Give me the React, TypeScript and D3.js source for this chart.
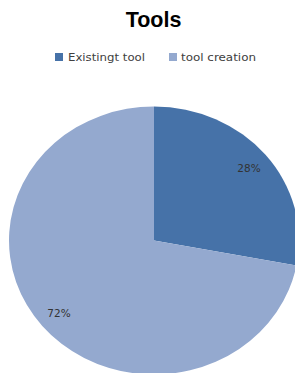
import React from "react";
import * as d3 from "d3";

const categories = ["Existingt tool", "tool creation"];
const values = [28, 72];
const labels = ["28%", "72%"];
const colors = ["#4672A8", "#94A9CF"];

const W = 295;
const H = 373;
const cx = 154;
const cy = 240.5;
const rx = 145;
const ry = 134;

export default function App() {
  const pie = d3.pie<number>().sort(null).value((d) => d)(values);
  const arc = d3.arc<d3.PieArcDatum<number>>().innerRadius(0).outerRadius(rx);
  const font = "'Liberation Sans', Arial, sans-serif";
  const font2 = "'DejaVu Sans', sans-serif";
  return (
    <svg
      width={W}
      height={H}
      style={{ position: "absolute", left: 0, top: 0, background: "#fff" }}
    >
      <rect width={W} height={H} fill="#fff" />
      <text
        x={153.5}
        y={27}
        textAnchor="middle"
        fontFamily={font}
        fontWeight="bold"
        fontSize={21.5}
        fill="#000"
      >
        Tools
      </text>
      <g fontFamily={font2} fontSize={10.5} fill="#404040">
        <rect x={55} y={53} width={8} height={8} fill={colors[0]} />
        <text x={68} y={61} textLength={77} lengthAdjust="spacingAndGlyphs">{categories[0]}</text>
        <rect x={169} y={53} width={8} height={8} fill={colors[1]} />
        <text x={181} y={61} textLength={75} lengthAdjust="spacingAndGlyphs">{categories[1]}</text>
      </g>
      <g transform={`translate(${cx},${cy}) scale(1,${ry / rx})`}>
        {pie.map((p, i) => (
          <path key={i} d={arc(p) || ""} fill={colors[i]} />
        ))}
      </g>
      <g fontFamily={font2} fontSize={10.5} fill="#333" textAnchor="middle">
        {pie.map((p, i) => {
          const a = (p.startAngle + p.endAngle) / 2;
          const k = 0.85;
          const x = cx + Math.sin(a) * rx * k;
          const y = cy - Math.cos(a) * ry * k;
          return (
            <text key={i} x={x} y={y + 4}>
              {labels[i]}
            </text>
          );
        })}
      </g>
    </svg>
  );
}
